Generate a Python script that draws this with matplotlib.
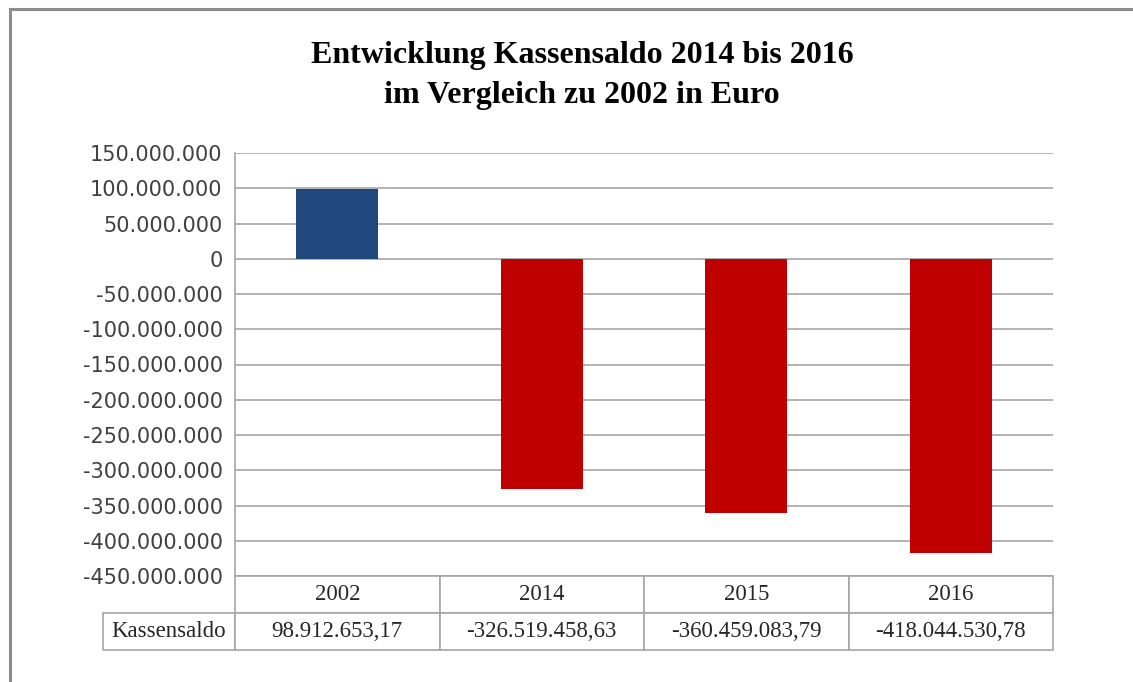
import matplotlib
matplotlib.use("Agg")
import matplotlib.pyplot as plt
from matplotlib.lines import Line2D
from matplotlib.ticker import FuncFormatter, MultipleLocator

# data
years = ["2002", "2014", "2015", "2016"]
kassensaldo = [98912653.17, -326519458.63, -360459083.79, -418044530.78]
row_label = "Kassensaldo"
bar_colors = ["#1F497D", "#C00000", "#C00000", "#C00000"]
title = "Entwicklung Kassensaldo 2014 bis 2016\nim Vergleich zu 2002 in Euro"


def de_int(v, pos=None):
    return f"{v:,.0f}".replace(",", ".")


def de_money(v):
    s = f"{v:,.2f}"
    return s.replace(",", "#").replace(".", ",").replace("#", ".")


W, H = 1133, 682
fig = plt.figure(figsize=(W / 100, H / 100), dpi=100)

# outer frame (top and left edges visible)
fig.add_artist(Line2D([10 / W, 10 / W], [0, 1 - 9 / H], color="#8C8C8C", lw=2.2))
fig.add_artist(Line2D([10 / W, 1], [1 - 9 / H, 1 - 9 / H], color="#8C8C8C", lw=2.2))

ax_l, ax_r, ax_t, ax_b = 235, 1053, 153, 576
ax = fig.add_axes([ax_l / W, 1 - ax_b / H, (ax_r - ax_l) / W, (ax_b - ax_t) / H])

x = list(range(len(years)))
ax.bar(x, kassensaldo, width=0.4, color=bar_colors, zorder=3)
ax.set_xlim(-0.5, len(years) - 0.5)
ax.set_ylim(-450000000, 150000000)
ax.yaxis.set_major_locator(MultipleLocator(50000000))
ax.yaxis.set_major_formatter(FuncFormatter(de_int))
ax.grid(axis="y", color="#A6A6A6", lw=1.2, zorder=0)
ax.set_xticks([])
ax.tick_params(axis="y", length=0, pad=9, labelsize=15, labelcolor="#404040")
for lab in ax.get_yticklabels():
    lab.set_family("DejaVu Sans")
for s in ["top", "right", "bottom"]:
    ax.spines[s].set_visible(False)
ax.spines["left"].set_color("#A6A6A6")
ax.spines["left"].set_linewidth(1.2)

# data table underneath
lbl_w = (ax_r - ax_l)
lab_frac = (235 - 103) / lbl_w
row_h = 74 / (ax_b - ax_t)
cells = [[""] + years, [row_label] + [de_money(v) for v in kassensaldo]]
tab = ax.table(cellText=cells, cellLoc="center",
               colWidths=[lab_frac] + [1 / len(years)] * len(years),
               bbox=[-lab_frac, -row_h, 1 + lab_frac, row_h])
tab.auto_set_font_size(False)
for (r, c), cell in tab.get_celld().items():
    cell.set_edgecolor("#A6A6A6")
    cell.set_linewidth(1.2)
    cell.get_text().set_fontsize(16.5)
    cell.get_text().set_family("Liberation Serif")
    cell.get_text().set_color("#262626")
    if r == 0 and c == 0:
        cell.visible_edges = ""

fig.text(582 / W, 1 - 75 / H, title, ha="center", va="center",
         fontsize=23, fontweight="bold", family="Liberation Serif",
         linespacing=1.5, color="black")

fig.savefig("out.png", dpi=100)
